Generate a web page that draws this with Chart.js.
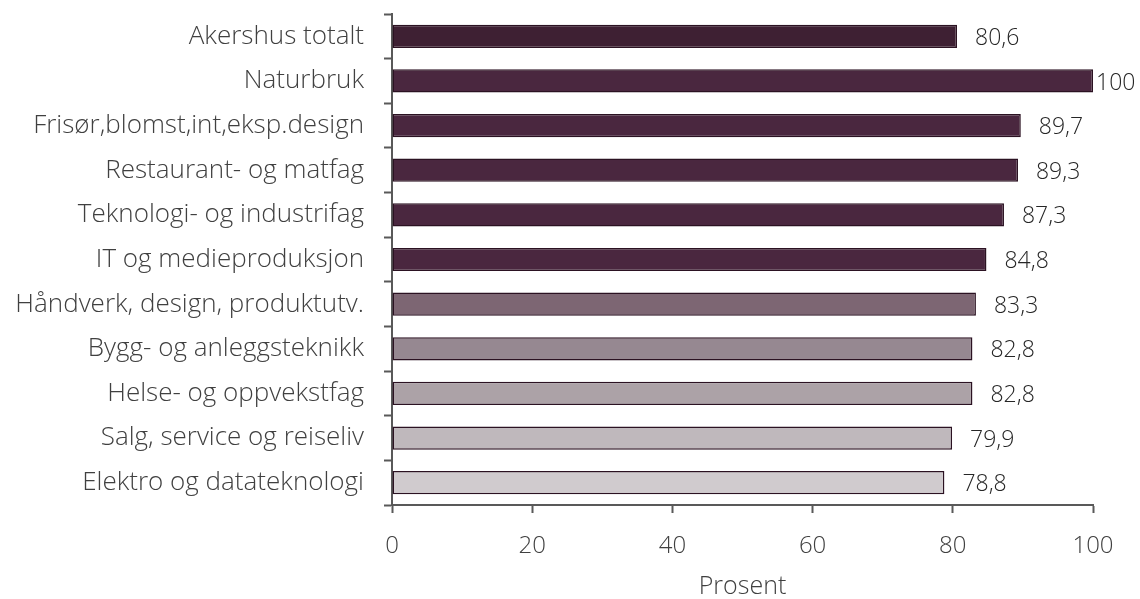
<!DOCTYPE html>
<html>
<head>
<meta charset="utf-8">
<script src="https://cdn.jsdelivr.net/npm/chart.js@4/dist/chart.umd.min.js"></script>
<style>
  html, body { margin: 0; padding: 0; background: #fff; }
  #wrap { width: 1140px; height: 599px; }
</style>
</head>
<body>
<div id="wrap"><canvas id="myChart" width="1140" height="599"></canvas></div>
<script>
const categories = [
  "Akershus totalt",
  "Naturbruk",
  "Frisør,blomst,int,eksp.design",
  "Restaurant- og matfag",
  "Teknologi- og industrifag",
  "IT og medieproduksjon",
  "Håndverk, design, produktutv.",
  "Bygg- og anleggsteknikk",
  "Helse- og oppvekstfag",
  "Salg, service og reiseliv",
  "Elektro og datateknologi"
];
const values = [80.6, 100, 89.7, 89.3, 87.3, 84.8, 83.3, 82.8, 82.8, 79.9, 78.8];
const xTicks = [0, 20, 40, 60, 80, 100];
const barColors = [
  "#3e2033", "#4a273f", "#4a273f", "#4a273f", "#4a273f", "#4a273f",
  "#7d6673", "#968891", "#aca2a7", "#bfb8bc", "#d0cbce"
];

const fontFamily = "'Open Sans', 'Noto Sans', sans-serif";

// value labels next to each bar, norsk desimalkomma
const valueLabels = {
  id: "valueLabels",
  afterDatasetsDraw(chart) {
    const ctx = chart.ctx;
    const meta = chart.getDatasetMeta(0);
    ctx.save();
    ctx.font = "300 23px " + fontFamily;
    ctx.fillStyle = "#262626";
    ctx.textBaseline = "middle";
    ctx.textAlign = "left";
    meta.data.forEach((bar, i) => {
      const v = values[i];
      const txt = String(v).replace(".", ",");
      const gap = v >= 100 ? 3 : 18;
      ctx.fillText(txt, bar.x + gap, bar.y + 2);
    });
    ctx.restore();
  }
};

const ctx = document.getElementById("myChart").getContext("2d");
const myChart = new Chart(ctx, {
  type: "bar",
  data: {
    labels: categories,
    datasets: [
      {
        data: values,
        backgroundColor: barColors,
        borderColor: "#2b1222",
        borderWidth: 1.5,
        borderSkipped: false,
        categoryPercentage: 1,
        barPercentage: 0.52
      }
    ]
  },
  options: {
    indexAxis: "y",
    responsive: false,
    animation: false,
    layout: { padding: { top: 14, right: 47, left: 0, bottom: 0 } },
    plugins: {
      legend: { display: false },
      tooltip: { enabled: false }
    },
    scales: {
      y: {
        grid: {
          offset: true,
          drawOnChartArea: false,
          tickLength: 8,
          tickColor: "#595959",
          tickWidth: 2
        },
        border: { color: "#595959", width: 2 },
        ticks: {
          color: "#404040",
          padding: 20,
          font: { family: fontFamily, size: 26, weight: 300 }
        },
        afterFit(scale) {
          scale.width = 392;
          scale.paddingTop = 0;
          scale.paddingBottom = 0;
        }
      },
      x: {
        min: 0,
        max: 100,
        afterBuildTicks(scale) { scale.ticks = xTicks.map(v => ({ value: v })); },
        grid: {
          drawOnChartArea: false,
          tickLength: 8,
          tickColor: "#595959",
          tickWidth: 2
        },
        border: { color: "#595959", width: 2 },
        ticks: {
          color: "#404040",
          padding: 19,
          font: { family: fontFamily, size: 24, weight: 300 }
        },
        title: {
          display: true,
          text: "Prosent",
          color: "#404040",
          padding: 0,
          font: { family: fontFamily, size: 25, weight: 300, lineHeight: 1.0 }
        },
        afterFit(scale) {
          scale.height = 94;
          scale.paddingLeft = 0;
          scale.paddingRight = 0;
        }
      }
    }
  },
  plugins: [valueLabels]
});
</script>
</body>
</html>
